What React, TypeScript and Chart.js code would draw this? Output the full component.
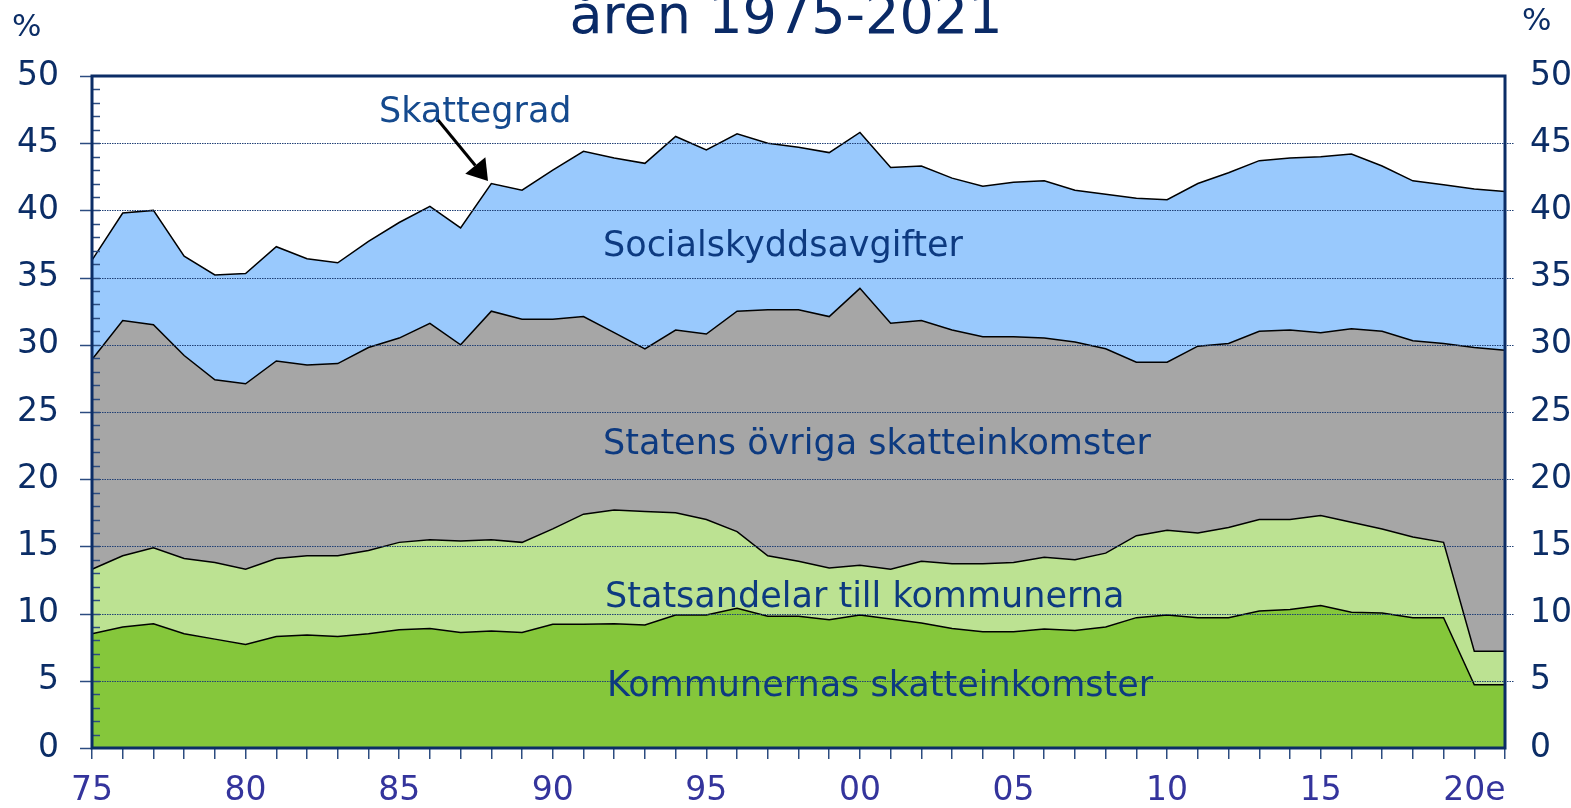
import React, { useEffect, useRef } from 'react';
import { Chart, registerables } from 'chart.js';

Chart.register(...registerables);

const years = [
  '1975', '1976', '1977', '1978', '1979', '1980', '1981', '1982', '1983', '1984',
  '1985', '1986', '1987', '1988', '1989', '1990', '1991', '1992', '1993', '1994',
  '1995', '1996', '1997', '1998', '1999', '2000', '2001', '2002', '2003', '2004',
  '2005', '2006', '2007', '2008', '2009', '2010', '2011', '2012', '2013', '2014',
  '2015', '2016', '2017', '2018', '2019', '2020', '2021',
];
const xTickLabels = ['75', '80', '85', '90', '95', '00', '05', '10', '15', '20e'];

const kommunernas = [
  8.5, 9.0, 9.25, 8.5, 8.1, 7.7, 8.3, 8.4, 8.3, 8.5,
  8.8, 8.9, 8.6, 8.7, 8.6, 9.2, 9.2, 9.25, 9.15, 9.9,
  9.9, 10.4, 9.8, 9.8, 9.55, 9.9, 9.6, 9.3, 8.9, 8.65,
  8.65, 8.85, 8.75, 9.0, 9.7, 9.9, 9.7, 9.7, 10.2, 10.3,
  10.6, 10.1, 10.05, 9.7, 9.7, 4.7, 4.7,
];
const statsandelar = [
  4.8, 5.3, 5.65, 5.6, 5.7, 5.6, 5.8, 5.9, 6.0, 6.2,
  6.5, 6.6, 6.8, 6.8, 6.7, 7.1, 8.2, 8.45, 8.45, 7.6,
  7.1, 5.7, 4.5, 4.1, 3.85, 3.7, 3.7, 4.6, 4.8, 5.05,
  5.15, 5.35, 5.25, 5.5, 6.1, 6.3, 6.3, 6.7, 6.8, 6.7,
  6.7, 6.7, 6.25, 6.0, 5.6, 2.5, 2.5,
];
const statensOvriga = [
  15.6, 17.5, 16.6, 15.1, 13.6, 13.8, 14.7, 14.2, 14.3, 15.1,
  15.2, 16.1, 14.6, 17.0, 16.6, 15.6, 14.7, 13.2, 12.1, 13.6,
  13.8, 16.4, 18.3, 18.7, 18.7, 20.6, 18.3, 17.9, 17.4, 16.9,
  16.8, 16.3, 16.2, 15.2, 12.9, 12.5, 13.9, 13.7, 14.0, 14.1,
  13.6, 14.4, 14.7, 14.6, 14.8, 22.6, 22.4,
];
const socialskydd = [
  7.4, 8.0, 8.5, 7.4, 7.8, 8.2, 8.5, 7.9, 7.5, 7.9,
  8.6, 8.7, 8.7, 9.5, 9.6, 11.1, 12.3, 13.0, 13.8, 14.4,
  13.7, 13.2, 12.4, 12.1, 12.2, 11.6, 11.6, 11.5, 11.3, 11.2,
  11.5, 11.7, 11.3, 11.5, 12.2, 12.1, 12.1, 12.7, 12.7, 12.8,
  13.1, 13.0, 12.3, 11.9, 11.8, 11.8, 11.8,
];

const seriesNames = [
  'Kommunernas skatteinkomster',
  'Statsandelar till kommunerna',
  'Statens övriga skatteinkomster',
  'Socialskyddsavgifter',
];
const totalLabel = 'Skattegrad';
const titleText = 'åren 1975-2021';
const unitText = '%';

const NAVY = '#0b2d66';
const TEXT_BLUE = '#0d3a80';
const FONT = '"DejaVu Sans", Verdana, sans-serif';

const overlayPlugin = {
  id: 'overlay',
  afterDatasetsDraw(chart: any) {
    const { ctx, chartArea } = chart;
    const y = chart.scales.y;
    const { left, right, top, bottom } = chartArea;
    ctx.save();
    // dotted gridlines
    ctx.strokeStyle = '#1f3f75';
    ctx.lineWidth = 1;
    ctx.setLineDash([1.5, 1]);
    for (let v = 5; v < 50; v += 5) {
      const py = Math.round(y.getPixelForValue(v)) + 0.5;
      ctx.beginPath();
      ctx.moveTo(left, py);
      ctx.lineTo(right + 9, py);
      ctx.stroke();
    }
    ctx.setLineDash([]);
    // major ticks outside left
    ctx.strokeStyle = '#2c4c80';
    ctx.lineWidth = 1.5;
    for (let v = 0; v <= 50; v += 5) {
      const py = Math.round(y.getPixelForValue(v)) + 0.5;
      ctx.beginPath();
      ctx.moveTo(left - 12, py);
      ctx.lineTo(left, py);
      ctx.stroke();
    }
    // minor ticks inside left
    for (let v = 1; v < 50; v += 1) {
      const py = Math.round(y.getPixelForValue(v)) + 0.5;
      ctx.beginPath();
      ctx.moveTo(left, py);
      ctx.lineTo(left + 8, py);
      ctx.stroke();
    }
    // frame
    ctx.strokeStyle = NAVY;
    ctx.lineWidth = 3;
    ctx.strokeRect(left, top, right - left, bottom - top);

    // annotations
    ctx.font = `35px ${FONT}`;
    ctx.textAlign = 'left';
    ctx.textBaseline = 'alphabetic';
    ctx.fillStyle = '#154a8e';
    ctx.fillText(totalLabel, 379, 122);
    ctx.fillStyle = TEXT_BLUE;
    ctx.fillText(seriesNames[3], 603, 256);
    ctx.fillText(seriesNames[2], 603, 454);
    ctx.fillText(seriesNames[1], 605, 607);
    ctx.fillText(seriesNames[0], 607, 696);

    // arrow
    const x1 = 438, y1 = 120, x2 = 488, y2 = 181;
    const ang = Math.atan2(y2 - y1, x2 - x1);
    const headLen = 20, headW = 13;
    const bx = x2 - headLen * Math.cos(ang);
    const by = y2 - headLen * Math.sin(ang);
    ctx.strokeStyle = '#000';
    ctx.lineWidth = 3;
    ctx.beginPath();
    ctx.moveTo(x1, y1);
    ctx.lineTo(bx, by);
    ctx.stroke();
    ctx.fillStyle = '#000';
    ctx.beginPath();
    ctx.moveTo(x2, y2);
    ctx.lineTo(bx + headW * Math.sin(ang), by - headW * Math.cos(ang));
    ctx.lineTo(bx - headW * Math.sin(ang), by + headW * Math.cos(ang));
    ctx.closePath();
    ctx.fill();

    // title
    ctx.fillStyle = '#0a2a66';
    ctx.font = `54px ${FONT}`;
    ctx.textAlign = 'center';
    ctx.fillText(titleText, 786, 33);

    // unit labels
    ctx.font = `31px ${FONT}`;
    ctx.fillStyle = NAVY;
    ctx.textAlign = 'left';
    ctx.fillText(unitText, 12, 36);
    ctx.fillText(unitText, 1522, 30);
    ctx.restore();
  },
};

export default function App() {
  const ref = useRef<HTMLCanvasElement | null>(null);

  useEffect(() => {
    if (!ref.current) return;
    const common = {
      borderColor: '#000000',
      borderWidth: 1.5,
      pointRadius: 0,
      tension: 0,
      yAxisID: 'y',
    };
    const chart = new Chart(ref.current, {
      type: 'line',
      data: {
        labels: years,
        datasets: [
          { ...common, label: seriesNames[0], data: kommunernas, backgroundColor: '#85c73b', fill: 'origin' },
          { ...common, label: seriesNames[1], data: statsandelar, backgroundColor: '#bce292', fill: '-1' },
          { ...common, label: seriesNames[2], data: statensOvriga, backgroundColor: '#a6a6a6', fill: '-1' },
          { ...common, label: seriesNames[3], data: socialskydd, backgroundColor: '#99c9fd', fill: '-1' },
        ],
      },
      options: {
        responsive: false,
        animation: false,
        devicePixelRatio: 1,
        layout: { padding: { top: 76, left: 0, right: 0, bottom: 0 } },
        plugins: {
          legend: { display: false },
          tooltip: { enabled: false },
          title: { display: false },
        },
        scales: {
          x: {
            type: 'category',
            offset: false,
            border: { display: false },
            grid: {
              display: true,
              drawOnChartArea: false,
              drawTicks: true,
              tickLength: 11,
              color: '#2c4c80',
              lineWidth: 1.5,
            },
            ticks: {
              autoSkip: false,
              maxRotation: 0,
              minRotation: 0,
              padding: 13,
              color: '#34349c',
              font: { family: FONT, size: 33 },
              callback: (_v: any, i: number) => (i % 5 === 0 ? xTickLabels[i / 5] ?? '' : ''),
            },
            afterFit: (s: any) => { s.height = 60; },
          },
          y: {
            position: 'left',
            stacked: true,
            min: 0,
            max: 50,
            border: { display: false },
            grid: { display: false, drawTicks: false },
            ticks: {
              stepSize: 5,
              padding: 33,
              color: NAVY,
              font: { family: FONT, size: 33 },
            },
            afterFit: (s: any) => { s.width = 92; },
          },
          y2: {
            position: 'right',
            min: 0,
            max: 50,
            border: { display: false },
            grid: { display: false, drawTicks: false },
            ticks: {
              stepSize: 5,
              padding: 25,
              color: NAVY,
              font: { family: FONT, size: 33 },
            },
            afterFit: (s: any) => { s.width = 66; },
          },
        },
      },
      plugins: [overlayPlugin],
    });
    return () => chart.destroy();
  }, []);

  return (
    <div style={{ position: 'absolute', left: 0, top: 0, width: 1571, height: 808, background: '#ffffff' }}>
      <canvas ref={ref} width={1571} height={808} style={{ display: 'block', width: 1571, height: 808 }} />
    </div>
  );
}
